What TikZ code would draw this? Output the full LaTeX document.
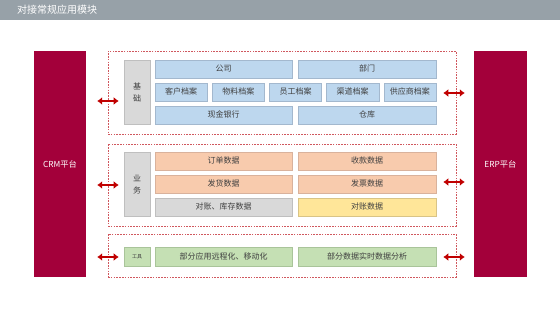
\documentclass[tikz,border=0pt]{standalone}
\usepackage{fontspec}
\setmainfont{Noto Sans CJK SC}
\usepackage{tikz}
\usetikzlibrary{positioning, arrows.meta, calc}
\definecolor{hdrgrey}{HTML}{97A1A8}
\definecolor{platred}{HTML}{A3003A}
\definecolor{framered}{HTML}{D0585E}
\definecolor{arrred}{HTML}{C00000}
\definecolor{txtgrey}{HTML}{404040}
\definecolor{bfill}{HTML}{BDD7EE}
\definecolor{bdraw}{HTML}{A3B8CE}
\definecolor{ofill}{HTML}{F8CBAD}
\definecolor{odraw}{HTML}{D9B29C}
\definecolor{gfill}{HTML}{D9D9D9}
\definecolor{gdraw}{HTML}{BFBFBF}
\definecolor{yfill}{HTML}{FFE699}
\definecolor{ydraw}{HTML}{D9C486}
\definecolor{lfill}{HTML}{C5E0B4}
\definecolor{ldraw}{HTML}{A9C49A}

\begin{document}
\begin{tikzpicture}[x=1pt, y=-1pt,
                platform/.style={fill=platred, text=white, minimum width=52pt, minimum height=226pt, inner sep=0pt, font=\fontsize{8.3}{10}\selectfont},
                frame/.style={draw=framered, line width=0.6pt, dash pattern=on 1.6pt off 1.2pt, minimum width=348pt, inner sep=0pt},
                catbox/.style={fill=gfill, draw=gdraw, line width=0.6pt, minimum width=26pt, inner sep=0pt, text=txtgrey, align=center, font=\fontsize{8}{12}\selectfont},
                modbox/.style={line width=0.6pt, minimum height=18pt, inner sep=0pt, outer sep=0pt, text height=6.6pt, text depth=1pt, text=txtgrey, font=\fontsize{8}{9}\selectfont},
                wide/.style={modbox, minimum width=137pt},
                narrow/.style={modbox, minimum width=52.2pt},
                bluebox/.style={fill=bfill, draw=bdraw},
                orangebox/.style={fill=ofill, draw=odraw},
                greybox/.style={fill=gfill, draw=gdraw},
                yellowbox/.style={fill=yfill, draw=ydraw},
                greenbox/.style={fill=lfill, draw=ldraw, minimum height=19pt},
                biarrow/.style={{Latex[length=5pt,width=8pt]}-{Latex[length=5pt,width=8pt]}, line width=2.8pt, draw=arrred}
            ]

            \useasboundingbox (0,0) rectangle (560,314);

            % Kopfzeile
            \fill[hdrgrey] (0,0) rectangle (560,19.5);
            \node[anchor=west, text=white, inner sep=0pt, font=\fontsize{10}{12}\selectfont] (title) at (17,10) {对接常规应用模块};

            % Plattformen
            \node[platform] (crm) at (60,164) {CRM平台};
            \node[platform, minimum width=53pt] (erp) at (500.5,164) {ERP平台};

            % Rahmen
            \node[frame, minimum height=83pt] (f1) at (282,92.5) {};
            \node[frame, minimum height=82pt] (f2) at (282,185) {};
            \node[frame, minimum height=43pt] (f3) at (282,255.5) {};

            % Basis
            \node[catbox, minimum height=64pt] (c1) at (137,92) {基\\础};
            \node[wide, bluebox] (gongsi) at (223.5,69) {公司};
            \node[wide, bluebox, minimum width=138pt, right=6pt of gongsi] (bumen) {部门};
            \node[narrow, bluebox, below right=5pt and 0pt of gongsi.south west] (kehu) {客户档案};
            \node[narrow, bluebox, right=5pt of kehu] (wuliao) {物料档案};
            \node[narrow, bluebox, right=5pt of wuliao] (yuangong) {员工档案};
            \node[narrow, bluebox, right=5pt of yuangong] (qudao) {渠道档案};
            \node[narrow, bluebox, right=5pt of qudao] (gongying) {供应商档案};
            \node[wide, bluebox, below right=5pt and 0pt of kehu.south west] (xianjin) {现金银行};
            \node[wide, bluebox, minimum width=138pt, right=6pt of xianjin] (cangku) {仓库};

            % Geschaeft
            \node[catbox, minimum height=64pt] (c2) at (137,184) {业\\务};
            \node[wide, orangebox] (dingdan) at (223.5,161) {订单数据};
            \node[wide, orangebox, minimum width=138pt, right=6pt of dingdan] (shoukuan) {收款数据};
            \node[wide, orangebox, below=5pt of dingdan] (fahuo) {发货数据};
            \node[wide, orangebox, minimum width=138pt, right=6pt of fahuo] (fapiao) {发票数据};
            \node[wide, greybox, below=5pt of fahuo] (kucun) {对账、库存数据};
            \node[wide, yellowbox, minimum width=138pt, right=6pt of kucun] (duizhang) {对账数据};

            % Werkzeuge
            \node[catbox, fill=lfill, draw=ldraw, minimum height=19pt, font=\fontsize{5}{6}\selectfont] (c3) at (137,256.5) {工具};
            \node[wide, greenbox] (yuancheng) at (223.5,256.5) {部分应用远程化、移动化};
            \node[wide, greenbox, minimum width=138pt, right=6pt of yuancheng] (fenxi) {部分数据实时数据分析};

            % Pfeile
            \draw[biarrow, shorten <=11pt, shorten >=-11pt] (crm.east |- 0,101) -- (f1.west |- 0,101);
            \draw[biarrow, shorten <=11pt, shorten >=-11pt] (crm.east |- f2.west) -- (f2.west);
            \draw[biarrow, shorten <=11pt, shorten >=-11pt] (crm.east |- 0,257) -- (f3.west |- 0,257);
            \draw[biarrow, shorten <=-13pt, shorten >=9pt] (f1.east |- 0,93) -- (erp.west |- 0,93);
            \draw[biarrow, shorten <=-13pt, shorten >=9pt] (f2.east |- 0,182) -- (erp.west |- 0,182);
            \draw[biarrow, shorten <=-13pt, shorten >=9pt] (f3.east |- 0,257) -- (erp.west |- 0,257);

        \end{tikzpicture}
\end{document}
